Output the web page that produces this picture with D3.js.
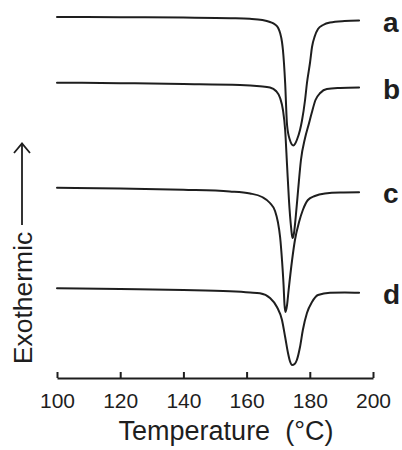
<!DOCTYPE html>
<html>
<head>
<meta charset="utf-8">
<script src="https://cdn.jsdelivr.net/npm/d3@7"></script>
<style>
  html, body { margin: 0; padding: 0; background: #fff; }
  svg { display: block; }
  text { font-family: "Liberation Sans", Arial, Helvetica, sans-serif; fill: #1e1e1e; }
</style>
</head>
<body>
<svg id="chart" width="402" height="450"></svg>
<script>
// DSC melting endotherms, curves offset vertically (heat flow, arbitrary units)
const seriesNames = ["a", "b", "c", "d"];
const xTicks = [100, 120, 140, 160, 180, 200];

const tempA = [100, 120, 140, 155, 161, 165, 167.4, 169, 170, 170.6, 171.2, 171.5, 172.2, 172.8, 173.7, 174.8, 175.3, 175.9, 176.9, 177.5, 178.5, 179.1, 180.1, 180.7, 181.6, 182.6, 184.2, 186.4, 191, 195.6];
const heatA = [36.1, 36.08, 36.04, 35.98, 35.92, 35.8, 35.6, 35.35, 35.0, 34.5, 33.6, 32.8, 29.5, 25.3, 23.8, 23.25, 23.4, 23.8, 24.8, 25.7, 27.8, 29.5, 31.6, 33.1, 34.2, 34.9, 35.3, 35.55, 35.7, 35.75];

const tempB = [100, 120, 140, 157.9, 164.2, 167.4, 169.3, 170.6, 171.5, 172.2, 172.8, 173.4, 174.1, 174.5, 175.0, 175.6, 176.3, 177.2, 178.5, 179.6, 180.6, 181.8, 183.3, 185.4, 189.6, 195.6];
const heatB = [29.53, 29.48, 29.4, 29.3, 29.17, 29.05, 28.7, 28.0, 26.8, 24.8, 21.3, 17.8, 15.0, 14.0, 14.5, 16.3, 18.8, 21.8, 24.0, 25.3, 26.5, 27.8, 28.5, 28.9, 29.0, 29.05];

const tempC = [100, 120, 140, 154.7, 161.1, 164.9, 167.4, 169.0, 169.9, 170.6, 171.2, 171.7, 172.0, 172.3, 172.8, 173.3, 174.4, 175.3, 176.6, 177.8, 179.4, 181.6, 184.8, 189.6, 195.6];
const heatC = [19.03, 18.95, 18.82, 18.65, 18.45, 18.1, 17.5, 16.7, 15.6, 14.1, 11.8, 9.3, 7.3, 6.6, 7.3, 8.8, 11.8, 13.8, 15.6, 16.8, 17.8, 18.2, 18.45, 18.55, 18.57];

const tempD = [100, 120, 140, 154.7, 161.1, 164.2, 167.4, 169.6, 171.2, 172.2, 173.1, 173.7, 174.4, 175.2, 175.9, 176.9, 177.8, 179.1, 180.7, 182.6, 186.4, 191.1, 195.6];
const heatD = [8.97, 8.9, 8.8, 8.67, 8.55, 8.47, 8.0, 7.1, 5.8, 4.1, 2.5, 1.7, 1.3, 1.4, 1.8, 3.1, 4.8, 6.5, 7.6, 8.3, 8.53, 8.55, 8.52];

const temps = [tempA, tempB, tempC, tempD];
const heats = [heatA, heatB, heatC, heatD];

const svg = d3.select("#chart");
const ink = "#1e1e1e";

const x = d3.scaleLinear().domain([100, 200]).range([57, 373]);
const y = d3.scaleLinear().domain([0, 37.8]).range([378, 0]);

const line = d3.line()
  .x(d => x(d[0]))
  .y(d => y(d[1]))
  .curve(d3.curveMonotoneX);

temps.forEach((t, i) => {
  const pts = t.map((tv, j) => [tv, heats[i][j]]);
  svg.append("path")
    .attr("d", line(pts))
    .attr("fill", "none")
    .attr("stroke", ink)
    .attr("stroke-width", 2)
    .attr("stroke-linejoin", "round")
    .attr("stroke-linecap", "round");

  // curve label at the right-hand end
  const last = pts[pts.length - 1];
  svg.append("text")
    .attr("x", 383)
    .attr("y", y(last[1]) + 11)
    .attr("font-size", 28)
    .attr("font-weight", "bold")
    .text(seriesNames[i]);
});

// temperature axis, ticks pointing up
const axis = svg.append("g")
  .attr("transform", `translate(0,${y(0)})`)
  .call(d3.axisBottom(x).tickValues(xTicks).tickSize(-6).tickSizeOuter(0).tickPadding(15));
axis.select(".domain").attr("stroke", ink).attr("stroke-width", 2);
axis.selectAll(".tick line").attr("stroke", ink).attr("stroke-width", 2);
axis.selectAll(".tick text")
  .attr("font-size", 21)
  .attr("font-family", "Liberation Sans, Arial, sans-serif")
  .attr("fill", ink);

svg.append("text")
  .attr("x", 226)
  .attr("y", 440)
  .attr("text-anchor", "middle")
  .attr("font-size", 27)
  .style("white-space", "pre")
  .text("Temperature  (°C)");

// y label with upward arrow
svg.append("text")
  .attr("transform", "translate(32,298) rotate(-90)")
  .attr("text-anchor", "middle")
  .attr("font-size", 26.5)
  .text("Exothermic");

svg.append("line")
  .attr("x1", 22).attr("x2", 22)
  .attr("y1", 225).attr("y2", 144)
  .attr("stroke", ink).attr("stroke-width", 1.8);
svg.append("path")
  .attr("d", "M14,153 L22,143.5 L30,153")
  .attr("fill", "none")
  .attr("stroke", ink)
  .attr("stroke-width", 1.8)
  .attr("stroke-linejoin", "miter");
</script>
</body>
</html>
